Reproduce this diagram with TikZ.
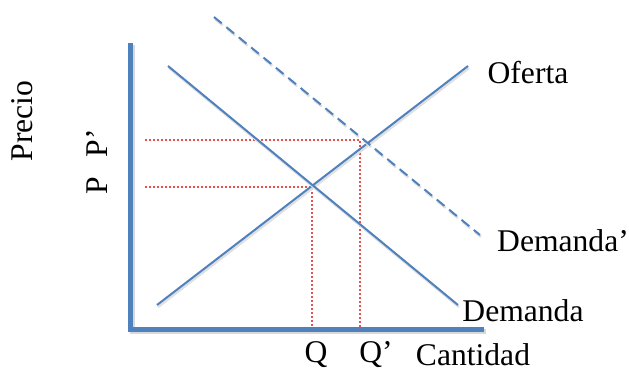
\documentclass[tikz,border=0pt]{standalone}
\usepackage{fontspec}
\setmainfont{Liberation Serif}
\definecolor{ejeAzul}{RGB}{79,129,189}
\definecolor{guiaRoja}{RGB}{230,80,80}

\begin{document}
\begin{tikzpicture}[x=0.5pt, y=-0.5pt,
    curva/.style={ejeAzul, line width=1pt},
    sombra/.style={black!12, line width=1.2pt},
    guia/.style={guiaRoja, line width=0.8pt, dash pattern=on 0.8pt off 1.2pt},
    etiqueta/.style={font=\fontsize{15.8}{18}\selectfont, inner sep=0pt}]

    \useasboundingbox (0,0) rectangle (629,370);

    % 1. EJES
    \coordinate (origen) at (131,329);
    \coordinate (ejeY) at (131,43);
    \coordinate (ejeX) at (484,329);
    \draw[black!15, line width=2.5pt] (133,45) -- (133,331) -- (486,331);
    \draw[ejeAzul, line width=2.5pt] (ejeY) -- (origen) -- (ejeX);

    % 2. LINEAS GUIA (equilibrio)
    \coordinate (eq) at (312,187);
    \coordinate (eqN) at (360,140);
    \draw[guia] (145,187) -- (eq) -- (312,327);
    \draw[guia] (145,140) -- (eqN) -- (360,327);

    % 3. CURVAS
    % Oferta
    \draw[sombra] (158,307) -- (469,68);
    \draw[curva] (157,305) -- (468,66);
    % Demanda
    \draw[sombra] (169,68) -- (459,307);
    \draw[curva] (168,66) -- (458,305);
    % Demanda' (desplazada)
    \draw[sombra, dash pattern=on 5pt off 3pt] (215,19) -- (481,237);
    \draw[curva, dash pattern=on 5pt off 3pt] (214,17) -- (480,235);

    % 4. ETIQUETAS
    \node[etiqueta] (oferta) at (528,73) {Oferta};
    \node[etiqueta] (demanda2) at (563,241) {Demanda’};
    \node[etiqueta] (demanda) at (523,311) {Demanda};
    \node[etiqueta] (cantQ) at (316,355) {Q};
    \node[etiqueta] (cantQ2) at (376,355) {Q’};
    \node[etiqueta] (cantidad) at (473,355) {Cantidad};
    \node[etiqueta, rotate=90] (precio) at (22,121) {Precio};
    \node[etiqueta, rotate=90] (precioP2) at (97,143) {P’};
    \node[etiqueta, rotate=90] (precioP) at (97,186) {P};

\end{tikzpicture}
\end{document}
